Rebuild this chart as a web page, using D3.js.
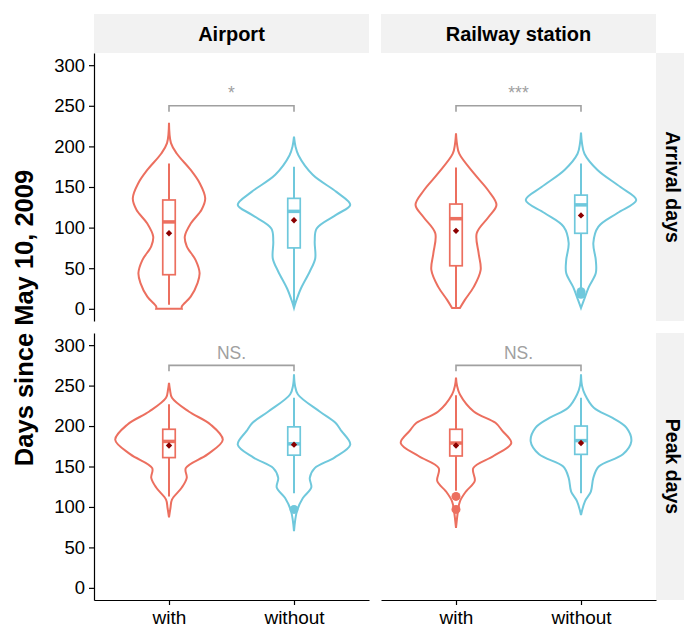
<!DOCTYPE html>
<html>
<head>
<meta charset="utf-8">
<script src="https://cdn.jsdelivr.net/npm/d3@7"></script>
<style>
  body { margin: 0; background: #fff; }
  svg { display: block; font-family: "Liberation Sans", Arial, Helvetica, sans-serif; }
</style>
</head>
<body>
<script>
// facets, groups, ticks
const stations = ["Airport", "Railway station"]
const measures = ["Arrival days", "Peak days"]
const groups = ["with", "without"]
const yTicks = [0, 50, 100, 150, 200, 250, 300]

// violin outlines: [days, relative density]
const airportArrivalWith = [[0, 13], [3, 13], [15, 22], [32, 29], [44, 31], [60, 27], [77, 18], [89, 16], [105, 22], [122, 33], [136, 36.7], [155, 31], [171, 22], [191, 8], [204, 2], [229, 0]]
const airportArrivalWithout = [[1, 0], [9, 2], [25, 7], [46, 16], [62, 21.5], [83, 21], [99, 23], [116, 43], [128, 57], [144, 43], [165, 19], [189, 4.5], [200, 1.5], [212, 0]]
const railwayArrivalWith = [[1, 4], [11, 9], [27, 18], [48, 25], [68, 23], [93, 21], [113, 33], [128, 41], [146, 32.5], [167, 18], [191, 3.3], [203, 1], [216, 0]]
const railwayArrivalWithout = [[1, 0], [11, 3], [27, 8], [44, 15], [60, 15], [81, 12.5], [101, 17.5], [118, 37], [134, 56], [150, 40], [171, 16.7], [191, 3.5], [204, 1], [217, 0]]
const airportPeakWith = [[87, 0], [99, 1.5], [109, 3], [124, 13], [136, 18], [148, 17], [165, 39], [183, 54.5], [202, 42], [218, 20], [235, 3], [245, 1], [253.5, 0]]
const airportPeakWithout = [[70, 0], [95, 3], [111, 9], [124, 17.5], [136, 16], [148, 21], [161, 41], [177, 57], [194, 48], [204, 42], [218, 26], [239, 4], [250, 1], [264, 0]]
const railwayPeakWith = [[74, 0], [95, 2], [107, 4], [119, 10], [132, 19], [148, 17.5], [163, 38], [179, 56], [194, 47], [204, 40], [218, 18], [239, 4], [250, 1], [260, 0]]
const railwayPeakWithout = [[90, 0], [107, 4], [119, 10], [136, 12.5], [150, 18], [165, 42.5], [181, 51], [198, 46], [210, 32], [222.6, 13], [239, 4], [250, 1], [264, 0]]

// box stats: [low whisker, q1, median, q3, high whisker, mean]
const airportArrivalBox = [[5, 42, 107, 134, 179, 93], [1, 75, 120, 136, 175, 109]]
const railwayArrivalBox = [[2, 53, 111, 129, 174, 96], [25, 93, 128, 140, 179, 115]]
const airportPeakBox = [[113, 161, 181, 196, 227, 176], [117, 164, 178, 199, 235, 177]]
const railwayPeakBox = [[120, 163, 179, 196, 238, 176], [117, 165, 182, 200, 235, 179]]

// outliers
const airportArrivalOut = [[], []]
const railwayArrivalOut = [[], [21, 18]]
const airportPeakOut = [[], [97]]
const railwayPeakOut = [[113, 97], []]

// significance
const sigLabels = [["*", "***"], ["NS.", "NS."]]
const bracketAt = [250, 275]

const violins = [
    [[airportArrivalWith, airportArrivalWithout], [railwayArrivalWith, railwayArrivalWithout]],
    [[airportPeakWith, airportPeakWithout], [railwayPeakWith, railwayPeakWithout]]
]
const boxes = [[airportArrivalBox, railwayArrivalBox], [airportPeakBox, railwayPeakBox]]
const outliers = [[airportArrivalOut, railwayArrivalOut], [airportPeakOut, railwayPeakOut]]

const colors = ["#EC6F5F", "#6FC8DC"]
const width = 684, height = 628
const colX = [94, 381], panelW = 275
const rowY = [53, 333], panelH = [268, 267]

const svg = d3.select("body").append("svg")
    .attr("width", width)
    .attr("height", height)

svg.append("rect").attr("width", width).attr("height", height).attr("fill", "#fff")

const widthScale = d3.scaleLinear().domain([0, 57])

measures.forEach((m, r) => {
    const y = d3.scaleLinear()
        .domain([-15, 315])
        .range([rowY[r] + panelH[r], rowY[r]])

    // right strip
    svg.append("rect")
        .attr("x", 656).attr("y", rowY[r])
        .attr("width", 30).attr("height", panelH[r])
        .attr("fill", "#F2F2F2")
    svg.append("text")
        .attr("transform", `translate(666, ${rowY[r] + panelH[r] / 2}) rotate(90)`)
        .attr("text-anchor", "middle")
        .style("font-size", "19.5px")
        .style("font-weight", "bold")
        .text(m)

    stations.forEach((s, c) => {
        const x = d3.scalePoint()
            .domain(groups)
            .range([colX[c], colX[c] + panelW])
            .padding(0.6)
        const step = x.step()
        widthScale.range([0, 0.45 * step])
        const boxHalf = 0.05 * step

        if (r === 0) {
            svg.append("rect")
                .attr("x", colX[c]).attr("y", 14)
                .attr("width", panelW).attr("height", 39)
                .attr("fill", "#F2F2F2")
            svg.append("text")
                .attr("x", colX[c] + panelW / 2).attr("y", 41)
                .attr("text-anchor", "middle")
                .style("font-size", "20px")
                .style("font-weight", "bold")
                .text(s)
        }

        const g = svg.append("g")

        groups.forEach((grp, i) => {
            const cx = x(grp)
            const col = colors[i]
            const area = d3.area()
                .y(d => y(d[0]))
                .x0(d => cx - widthScale(d[1]))
                .x1(d => cx + widthScale(d[1]))
                .curve(d3.curveCatmullRom)

            g.append("path")
                .datum(violins[r][c][i])
                .attr("d", area)
                .attr("fill", "none")
                .attr("stroke", col)
                .attr("stroke-width", 2)

            const b = boxes[r][c][i]
            // whiskers
            g.append("line")
                .attr("x1", cx).attr("x2", cx)
                .attr("y1", y(b[3])).attr("y2", y(b[4]))
                .attr("stroke", col).attr("stroke-width", 2)
            g.append("line")
                .attr("x1", cx).attr("x2", cx)
                .attr("y1", y(b[1])).attr("y2", y(b[0]))
                .attr("stroke", col).attr("stroke-width", 2)
            // box
            g.append("rect")
                .attr("x", cx - boxHalf)
                .attr("width", boxHalf * 2)
                .attr("y", y(b[3]))
                .attr("height", y(b[1]) - y(b[3]))
                .attr("fill", "#fff")
                .attr("stroke", col)
                .attr("stroke-width", 1.7)
            g.append("line")
                .attr("x1", cx - boxHalf).attr("x2", cx + boxHalf)
                .attr("y1", y(b[2])).attr("y2", y(b[2]))
                .attr("stroke", col).attr("stroke-width", 3.5)

            g.selectAll(null)
                .data(outliers[r][c][i])
                .join("circle")
                .attr("cx", cx)
                .attr("cy", d => y(d))
                .attr("r", 4.5)
                .attr("fill", col)

            // mean
            g.append("path")
                .attr("d", d3.symbol(d3.symbolDiamond2, 26)())
                .attr("transform", `translate(${cx}, ${y(b[5])})`)
                .attr("fill", "#8B0000")
        })

        // bracket
        const by = y(bracketAt[r])
        const x1 = x(groups[0]), x2 = x(groups[1])
        g.append("path")
            .attr("d", `M${x1},${by + 6}V${by}H${x2}V${by + 6}`)
            .attr("fill", "none")
            .attr("stroke", "#A0A0A0")
            .attr("stroke-width", 1.6)
        g.append("text")
            .attr("x", (x1 + x2) / 2)
            .attr("y", by - 6.5)
            .attr("text-anchor", "middle")
            .attr("fill", "#A0A0A0")
            .style("font-size", "17.5px")
            .text(sigLabels[r][c])

        // axes
        if (c === 0) {
            svg.append("g")
                .attr("transform", `translate(${colX[c]}, 0)`)
                .call(d3.axisLeft(y).tickValues(yTicks).tickSize(5).tickSizeOuter(0).tickPadding(4))
                .call(a => a.selectAll("text").style("font-size", "18.5px").attr("fill", "#000"))
                .call(a => a.selectAll("line, path").attr("stroke", "#000").attr("stroke-width", 1.2))
                .style("font-family", null)
        }
        if (r === 1) {
            svg.append("g")
                .attr("transform", `translate(0, ${rowY[r] + panelH[r]})`)
                .call(d3.axisBottom(x).tickSize(5).tickSizeOuter(0).tickPadding(6))
                .call(a => a.selectAll("text").style("font-size", "19px").attr("fill", "#000"))
                .call(a => a.selectAll("line, path").attr("stroke", "#000").attr("stroke-width", 1.2))
                .style("font-family", null)
        }
    })
})

svg.append("text")
    .attr("transform", `translate(33, 318) rotate(-90)`)
    .attr("text-anchor", "middle")
    .style("font-size", "25.5px")
    .style("font-weight", "bold")
    .text("Days since May 10, 2009")
</script>
</body>
</html>
